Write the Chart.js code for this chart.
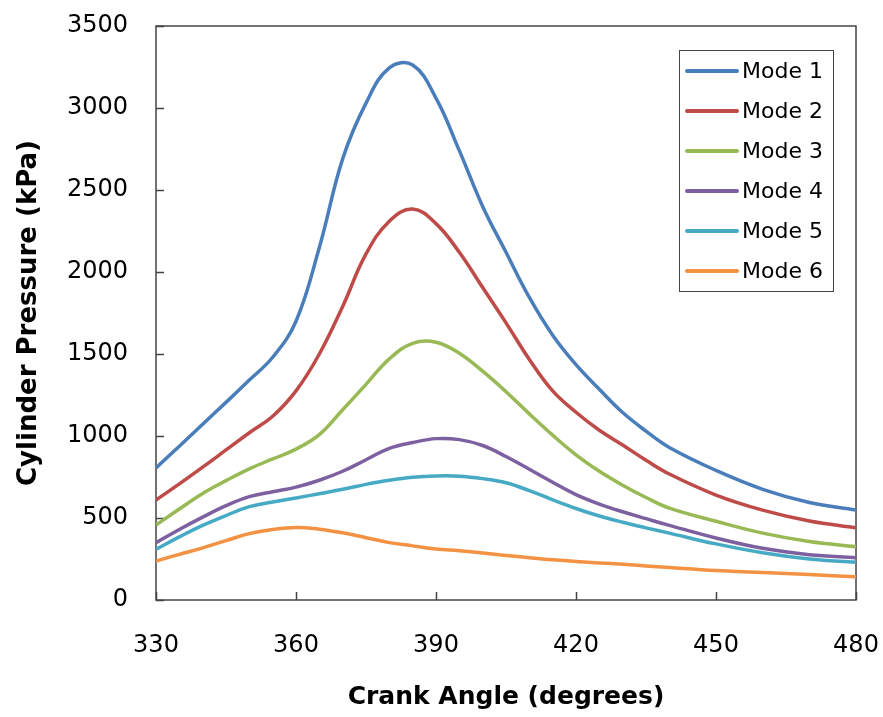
<!DOCTYPE html>
<html>
<head>
<meta charset="utf-8">
<script src="https://cdn.jsdelivr.net/npm/chart.js"></script>
<style>
  body { margin: 0; background: #fff; }
  #wrap { width: 883px; height: 717px; }
</style>
</head>
<body>
<div id="wrap"><canvas id="myChart" width="883" height="717"></canvas></div>
<script>
// crank angle (degrees) where the curves were read
const crankAngle = [330, 335, 340, 345, 350, 355, 360, 365, 370, 375, 380, 385, 390, 395, 400, 405, 410, 415, 420, 425, 430, 435, 440, 450, 460, 470, 480];

// cylinder pressure (kPa) for each mode
const mode1 = [805, 938, 1072, 1205, 1341, 1480, 1700, 2150, 2690, 3030, 3245, 3262, 3060, 2740, 2400, 2120, 1845, 1615, 1435, 1285, 1143, 1030, 930, 790, 675, 595, 549];
const mode2 = [610, 708, 810, 915, 1020, 1120, 1275, 1500, 1790, 2110, 2310, 2384, 2295, 2120, 1905, 1690, 1467, 1275, 1145, 1035, 945, 852, 768, 640, 548, 482, 441];
const mode3 = [457, 555, 650, 728, 800, 860, 920, 1008, 1160, 1315, 1470, 1565, 1572, 1505, 1395, 1270, 1135, 1005, 885, 785, 700, 625, 560, 480, 408, 357, 325];
const mode4 = [349, 430, 505, 575, 630, 660, 688, 730, 785, 855, 925, 960, 984, 978, 942, 875, 797, 718, 643, 585, 538, 496, 455, 378, 315, 276, 258];
const mode5 = [309, 385, 455, 515, 569, 598, 622, 648, 675, 705, 730, 748, 756, 755, 740, 715, 667, 611, 558, 512, 474, 440, 408, 342, 288, 250, 230];
const mode6 = [238, 278, 318, 362, 405, 430, 442, 432, 410, 380, 350, 330, 311, 300, 287, 272, 258, 245, 235, 226, 218, 208, 198, 180, 168, 155, 142];

const modeNames = ['Mode 1', 'Mode 2', 'Mode 3', 'Mode 4', 'Mode 5', 'Mode 6'];
const modeColors = ['#4a7ebb', '#be4b48', '#98b954', '#7d60a0', '#46aac5', '#f39243'];

const xTicks = [330, 360, 390, 420, 450, 480];
const yTicks = [0, 500, 1000, 1500, 2000, 2500, 3000, 3500];

const series = [mode1, mode2, mode3, mode4, mode5, mode6];

// frame round the plot, inward tick marks and the boxed legend
const frameAndLegend = {
  id: 'frameAndLegend',
  beforeDatasetsDraw(chart) {
    const { ctx, chartArea: a, scales } = chart;
    ctx.save();
    ctx.strokeStyle = '#444';
    ctx.lineWidth = 1.5;
    ctx.strokeRect(a.left, a.top, a.right - a.left, a.bottom - a.top);
    ctx.beginPath();
    yTicks.forEach(v => {
      const y = Math.round(scales.y.getPixelForValue(v)) + 0.5;
      ctx.moveTo(a.left, y);
      ctx.lineTo(a.left + 8, y);
    });
    xTicks.forEach(v => {
      const x = Math.round(scales.x.getPixelForValue(v)) + 0.5;
      ctx.moveTo(x, a.bottom);
      ctx.lineTo(x, a.bottom - 8);
    });
    ctx.stroke();
    ctx.restore();
  },
  afterDatasetsDraw(chart) {
    const { ctx, chartArea: a } = chart;
    const boxLeft = a.right - 177;
    const boxTop = a.top + 24;
    const rowH = 40;
    ctx.save();
    ctx.fillStyle = '#fff';
    ctx.fillRect(boxLeft, boxTop, 154, 241);
    ctx.strokeStyle = '#444';
    ctx.lineWidth = 1;
    ctx.strokeRect(boxLeft + 0.5, boxTop + 0.5, 154, 241);
    ctx.font = '22px "DejaVu Sans"';
    ctx.textBaseline = 'middle';
    ctx.lineCap = 'round';
    chart.data.datasets.forEach((ds, i) => {
      const y = boxTop + 21 + i * rowH;
      ctx.strokeStyle = ds.borderColor;
      ctx.lineWidth = 4;
      ctx.beginPath();
      ctx.moveTo(boxLeft + 8, y);
      ctx.lineTo(boxLeft + 58, y);
      ctx.stroke();
      ctx.fillStyle = '#000';
      ctx.fillText(ds.label, boxLeft + 63, y + 1);
    });
    ctx.restore();
  }
};

const ctx = document.getElementById('myChart').getContext('2d');
const myChart = new Chart(ctx, {
  type: 'line',
  data: {
    labels: crankAngle,
    datasets: series.map((s, i) => ({
      label: modeNames[i],
      data: s.map((v, j) => ({ x: crankAngle[j], y: v })),
      borderColor: modeColors[i],
      backgroundColor: modeColors[i],
      borderWidth: 3.5,
      pointRadius: 0,
      tension: 0.4,
      fill: false
    }))
  },
  options: {
    responsive: false,
    animation: false,
    devicePixelRatio: 1,
    layout: { padding: { left: 0, top: 26, right: 27, bottom: 0 } },
    plugins: {
      legend: { display: false },
      tooltip: { enabled: false }
    },
    scales: {
      x: {
        type: 'linear',
        min: 330,
        max: 480,
        afterBuildTicks: scale => { scale.ticks = xTicks.map(v => ({ value: v })); },
        afterFit: scale => {
          scale.height = 117;
          scale.paddingLeft = 0;
          scale.paddingRight = 0;
        },
        grid: { display: false, drawTicks: false },
        border: { display: false },
        ticks: {
          color: '#000',
          padding: 31,
          maxRotation: 0,
          callback: v => String(v),
          font: { family: 'DejaVu Sans', size: 24 }
        },
        title: {
          display: true,
          text: 'Crank Angle (degrees)',
          color: '#000',
          font: { family: 'DejaVu Sans', size: 25, weight: 'bold' },
          padding: { top: 0, bottom: 5 }
        }
      },
      y: {
        min: 0,
        max: 3500,
        afterBuildTicks: scale => { scale.ticks = yTicks.map(v => ({ value: v })); },
        afterFit: scale => {
          scale.width = 156;
          scale.paddingTop = 0;
          scale.paddingBottom = 0;
        },
        grid: { display: false, drawTicks: false },
        border: { display: false },
        ticks: {
          color: '#000',
          padding: 28,
          callback: v => String(v),
          font: { family: 'DejaVu Sans', size: 24 }
        },
        title: {
          display: true,
          text: 'Cylinder Pressure (kPa)',
          color: '#000',
          font: { family: 'DejaVu Sans', size: 26, weight: 'bold' },
          padding: { top: 14, bottom: 0 }
        }
      }
    }
  },
  plugins: [frameAndLegend]
});
</script>
</body>
</html>
